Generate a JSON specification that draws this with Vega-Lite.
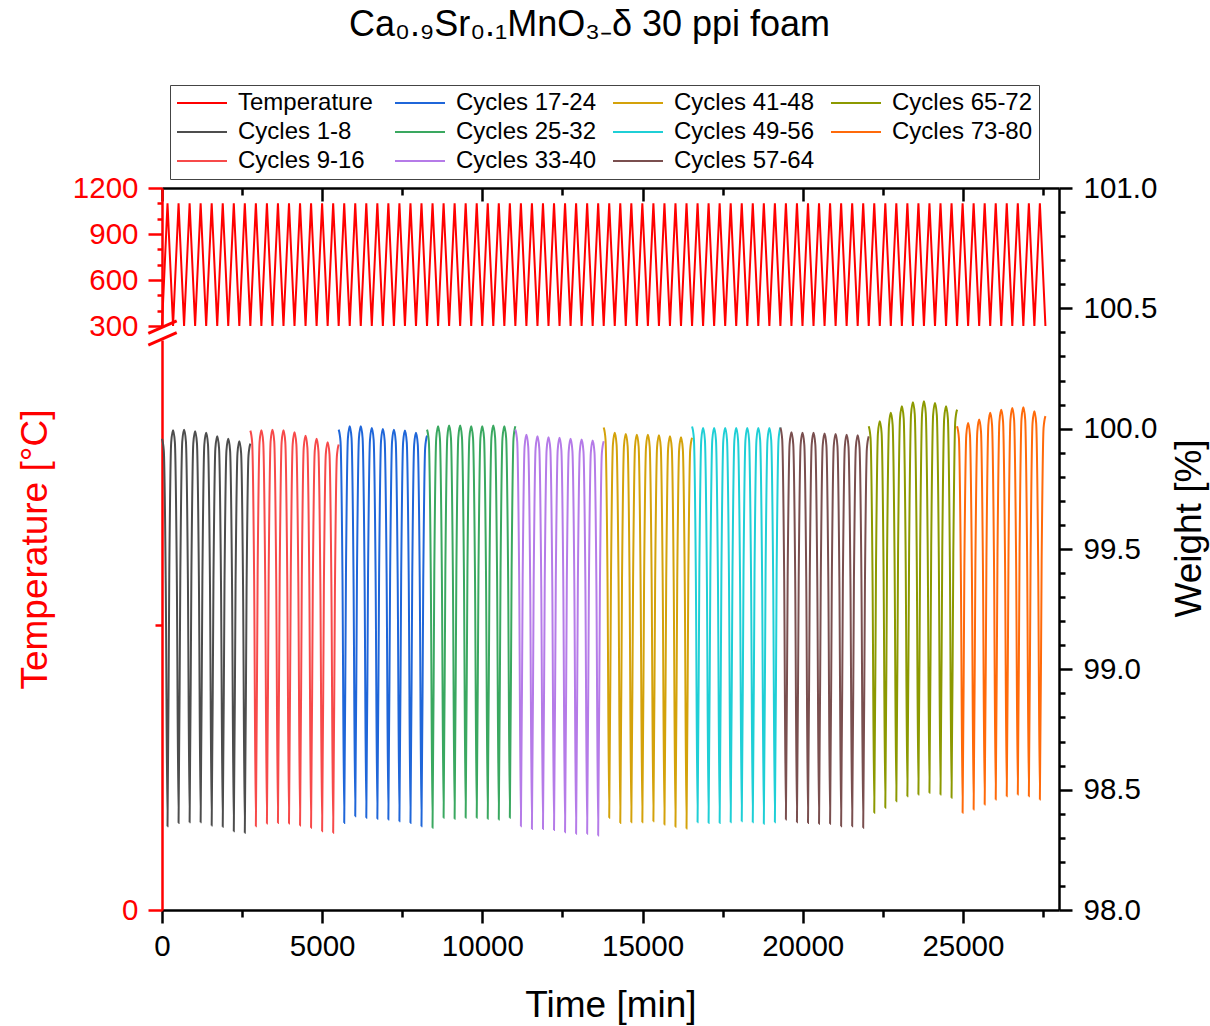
{
"$schema": "https://vega.github.io/schema/vega-lite/v6.json",
"width": 897, "height": 722,
"autosize": {"type": "none"},
"padding": {"left": 162, "top": 188, "right": 151, "bottom": 116},
"background": "white",
"config": {
  "font": "Liberation Sans",
  "view": {"stroke": null},
  "axis": {"grid": false, "domainWidth": 2.5, "tickWidth": 2.5, "domainColor": "#000", "tickColor": "#000", "labelColor": "#000", "labelFontSize": 29.5, "titleFontSize": 37, "titleFontWeight": "normal", "labelFont": "Liberation Sans", "titleFont": "Liberation Sans", "titleColor": "#000", "labelOverlap": false, "labelFlush": false}
},
"title": {"text": "Ca₀.₉Sr₀.₁MnO₃₋δ 30 ppi foam", "fontSize": 36, "font": "Liberation Sans", "fontWeight": "normal", "color": "#000", "anchor": "middle", "frame": "group", "dx": -21, "offset": 41},
"datasets": {
"temp": [{"t":0,"T":300},{"t":172,"T":1100},{"t":345,"T":300},{"t":517,"T":1100},{"t":689,"T":300},{"t":862,"T":1100},{"t":1034,"T":300},{"t":1206,"T":1100},{"t":1379,"T":300},{"t":1551,"T":1100},{"t":1724,"T":300},{"t":1896,"T":1100},{"t":2068,"T":300},{"t":2241,"T":1100},{"t":2413,"T":300},{"t":2585,"T":1100},{"t":2758,"T":300},{"t":2930,"T":1100},{"t":3102,"T":300},{"t":3275,"T":1100},{"t":3447,"T":300},{"t":3619,"T":1100},{"t":3792,"T":300},{"t":3964,"T":1100},{"t":4136,"T":300},{"t":4309,"T":1100},{"t":4481,"T":300},{"t":4653,"T":1100},{"t":4826,"T":300},{"t":4998,"T":1100},{"t":5171,"T":300},{"t":5343,"T":1100},{"t":5515,"T":300},{"t":5688,"T":1100},{"t":5860,"T":300},{"t":6032,"T":1100},{"t":6205,"T":300},{"t":6377,"T":1100},{"t":6549,"T":300},{"t":6722,"T":1100},{"t":6894,"T":300},{"t":7066,"T":1100},{"t":7239,"T":300},{"t":7411,"T":1100},{"t":7583,"T":300},{"t":7756,"T":1100},{"t":7928,"T":300},{"t":8100,"T":1100},{"t":8273,"T":300},{"t":8445,"T":1100},{"t":8618,"T":300},{"t":8790,"T":1100},{"t":8962,"T":300},{"t":9134,"T":1100},{"t":9307,"T":300},{"t":9479,"T":1100},{"t":9652,"T":300},{"t":9824,"T":1100},{"t":9996,"T":300},{"t":10168,"T":1100},{"t":10341,"T":300},{"t":10513,"T":1100},{"t":10686,"T":300},{"t":10858,"T":1100},{"t":11030,"T":300},{"t":11203,"T":1100},{"t":11375,"T":300},{"t":11547,"T":1100},{"t":11720,"T":300},{"t":11892,"T":1100},{"t":12065,"T":300},{"t":12237,"T":1100},{"t":12409,"T":300},{"t":12581,"T":1100},{"t":12754,"T":300},{"t":12926,"T":1100},{"t":13099,"T":300},{"t":13271,"T":1100},{"t":13443,"T":300},{"t":13615,"T":1100},{"t":13788,"T":300},{"t":13960,"T":1100},{"t":14133,"T":300},{"t":14305,"T":1100},{"t":14477,"T":300},{"t":14650,"T":1100},{"t":14822,"T":300},{"t":14994,"T":1100},{"t":15167,"T":300},{"t":15339,"T":1100},{"t":15512,"T":300},{"t":15684,"T":1100},{"t":15856,"T":300},{"t":16028,"T":1100},{"t":16201,"T":300},{"t":16373,"T":1100},{"t":16546,"T":300},{"t":16718,"T":1100},{"t":16890,"T":300},{"t":17062,"T":1100},{"t":17235,"T":300},{"t":17407,"T":1100},{"t":17580,"T":300},{"t":17752,"T":1100},{"t":17924,"T":300},{"t":18097,"T":1100},{"t":18269,"T":300},{"t":18441,"T":1100},{"t":18614,"T":300},{"t":18786,"T":1100},{"t":18959,"T":300},{"t":19131,"T":1100},{"t":19303,"T":300},{"t":19475,"T":1100},{"t":19648,"T":300},{"t":19820,"T":1100},{"t":19993,"T":300},{"t":20165,"T":1100},{"t":20337,"T":300},{"t":20509,"T":1100},{"t":20682,"T":300},{"t":20854,"T":1100},{"t":21027,"T":300},{"t":21199,"T":1100},{"t":21371,"T":300},{"t":21544,"T":1100},{"t":21716,"T":300},{"t":21888,"T":1100},{"t":22061,"T":300},{"t":22233,"T":1100},{"t":22406,"T":300},{"t":22578,"T":1100},{"t":22750,"T":300},{"t":22922,"T":1100},{"t":23095,"T":300},{"t":23267,"T":1100},{"t":23440,"T":300},{"t":23612,"T":1100},{"t":23784,"T":300},{"t":23956,"T":1100},{"t":24129,"T":300},{"t":24301,"T":1100},{"t":24474,"T":300},{"t":24646,"T":1100},{"t":24818,"T":300},{"t":24991,"T":1100},{"t":25163,"T":300},{"t":25335,"T":1100},{"t":25508,"T":300},{"t":25680,"T":1100},{"t":25853,"T":300},{"t":26025,"T":1100},{"t":26197,"T":300},{"t":26369,"T":1100},{"t":26542,"T":300},{"t":26714,"T":1100},{"t":26887,"T":300},{"t":27059,"T":1100},{"t":27231,"T":300},{"t":27403,"T":1100},{"t":27576,"T":300}],
"wt": [
{"t":0,"w":99.958,"g":"1-8"},
{"t":57,"w":99.908,"g":"1-8"},{"t":117,"w":99.358,"g":"1-8"},{"t":172,"w":98.348,"g":"1-8"},{"t":227,"w":99.393,"g":"1-8"},{"t":287,"w":99.943,"g":"1-8"},{"t":345,"w":99.993,"g":"1-8"},
{"t":402,"w":99.943,"g":"1-8"},{"t":462,"w":99.393,"g":"1-8"},{"t":517,"w":98.362,"g":"1-8"},{"t":572,"w":99.396,"g":"1-8"},{"t":632,"w":99.946,"g":"1-8"},{"t":689,"w":99.996,"g":"1-8"},
{"t":747,"w":99.946,"g":"1-8"},{"t":807,"w":99.396,"g":"1-8"},{"t":862,"w":98.365,"g":"1-8"},{"t":917,"w":99.389,"g":"1-8"},{"t":977,"w":99.939,"g":"1-8"},{"t":1034,"w":99.989,"g":"1-8"},
{"t":1091,"w":99.939,"g":"1-8"},{"t":1151,"w":99.389,"g":"1-8"},{"t":1206,"w":98.365,"g":"1-8"},{"t":1261,"w":99.383,"g":"1-8"},{"t":1321,"w":99.933,"g":"1-8"},{"t":1379,"w":99.983,"g":"1-8"},
{"t":1436,"w":99.933,"g":"1-8"},{"t":1496,"w":99.383,"g":"1-8"},{"t":1551,"w":98.351,"g":"1-8"},{"t":1606,"w":99.368,"g":"1-8"},{"t":1666,"w":99.918,"g":"1-8"},{"t":1724,"w":99.968,"g":"1-8"},
{"t":1781,"w":99.918,"g":"1-8"},{"t":1841,"w":99.368,"g":"1-8"},{"t":1896,"w":98.346,"g":"1-8"},{"t":1951,"w":99.358,"g":"1-8"},{"t":2011,"w":99.908,"g":"1-8"},{"t":2068,"w":99.958,"g":"1-8"},
{"t":2126,"w":99.908,"g":"1-8"},{"t":2186,"w":99.358,"g":"1-8"},{"t":2241,"w":98.327,"g":"1-8"},{"t":2296,"w":99.348,"g":"1-8"},{"t":2356,"w":99.898,"g":"1-8"},{"t":2413,"w":99.948,"g":"1-8"},
{"t":2470,"w":99.898,"g":"1-8"},{"t":2530,"w":99.348,"g":"1-8"},{"t":2585,"w":98.321,"g":"1-8"},{"t":2640,"w":99.338,"g":"1-8"},{"t":2700,"w":99.888,"g":"1-8"},{"t":2758,"w":99.938,"g":"1-8"},
{"t":2758,"w":99.992,"g":"9-16"},
{"t":2815,"w":99.942,"g":"9-16"},{"t":2875,"w":99.392,"g":"9-16"},{"t":2930,"w":98.348,"g":"9-16"},{"t":2985,"w":99.393,"g":"9-16"},{"t":3045,"w":99.943,"g":"9-16"},{"t":3102,"w":99.993,"g":"9-16"},
{"t":3160,"w":99.943,"g":"9-16"},{"t":3220,"w":99.393,"g":"9-16"},{"t":3275,"w":98.359,"g":"9-16"},{"t":3330,"w":99.396,"g":"9-16"},{"t":3390,"w":99.946,"g":"9-16"},{"t":3447,"w":99.996,"g":"9-16"},
{"t":3504,"w":99.946,"g":"9-16"},{"t":3564,"w":99.396,"g":"9-16"},{"t":3619,"w":98.362,"g":"9-16"},{"t":3674,"w":99.393,"g":"9-16"},{"t":3734,"w":99.943,"g":"9-16"},{"t":3792,"w":99.993,"g":"9-16"},
{"t":3849,"w":99.943,"g":"9-16"},{"t":3909,"w":99.393,"g":"9-16"},{"t":3964,"w":98.359,"g":"9-16"},{"t":4019,"w":99.385,"g":"9-16"},{"t":4079,"w":99.935,"g":"9-16"},{"t":4136,"w":99.985,"g":"9-16"},
{"t":4194,"w":99.935,"g":"9-16"},{"t":4254,"w":99.385,"g":"9-16"},{"t":4309,"w":98.351,"g":"9-16"},{"t":4364,"w":99.371,"g":"9-16"},{"t":4424,"w":99.921,"g":"9-16"},{"t":4481,"w":99.971,"g":"9-16"},
{"t":4538,"w":99.921,"g":"9-16"},{"t":4598,"w":99.371,"g":"9-16"},{"t":4653,"w":98.342,"g":"9-16"},{"t":4708,"w":99.358,"g":"9-16"},{"t":4768,"w":99.908,"g":"9-16"},{"t":4826,"w":99.958,"g":"9-16"},
{"t":4883,"w":99.908,"g":"9-16"},{"t":4943,"w":99.358,"g":"9-16"},{"t":4998,"w":98.327,"g":"9-16"},{"t":5053,"w":99.344,"g":"9-16"},{"t":5113,"w":99.894,"g":"9-16"},{"t":5171,"w":99.944,"g":"9-16"},
{"t":5228,"w":99.894,"g":"9-16"},{"t":5288,"w":99.344,"g":"9-16"},{"t":5343,"w":98.321,"g":"9-16"},{"t":5398,"w":99.334,"g":"9-16"},{"t":5458,"w":99.884,"g":"9-16"},{"t":5515,"w":99.934,"g":"9-16"},
{"t":5515,"w":99.996,"g":"17-24"},
{"t":5573,"w":99.946,"g":"17-24"},{"t":5633,"w":99.396,"g":"17-24"},{"t":5688,"w":98.362,"g":"17-24"},{"t":5743,"w":99.41,"g":"17-24"},{"t":5803,"w":99.96,"g":"17-24"},{"t":5860,"w":100.01,"g":"17-24"},
{"t":5917,"w":99.96,"g":"17-24"},{"t":5977,"w":99.41,"g":"17-24"},{"t":6032,"w":98.39,"g":"17-24"},{"t":6087,"w":99.41,"g":"17-24"},{"t":6147,"w":99.96,"g":"17-24"},{"t":6205,"w":100.01,"g":"17-24"},
{"t":6262,"w":99.96,"g":"17-24"},{"t":6322,"w":99.41,"g":"17-24"},{"t":6377,"w":98.383,"g":"17-24"},{"t":6432,"w":99.403,"g":"17-24"},{"t":6492,"w":99.953,"g":"17-24"},{"t":6549,"w":100.003,"g":"17-24"},
{"t":6607,"w":99.953,"g":"17-24"},{"t":6667,"w":99.403,"g":"17-24"},{"t":6722,"w":98.379,"g":"17-24"},{"t":6777,"w":99.399,"g":"17-24"},{"t":6837,"w":99.949,"g":"17-24"},{"t":6894,"w":99.999,"g":"17-24"},
{"t":6951,"w":99.949,"g":"17-24"},{"t":7011,"w":99.399,"g":"17-24"},{"t":7066,"w":98.376,"g":"17-24"},{"t":7121,"w":99.396,"g":"17-24"},{"t":7181,"w":99.946,"g":"17-24"},{"t":7239,"w":99.996,"g":"17-24"},
{"t":7296,"w":99.946,"g":"17-24"},{"t":7356,"w":99.396,"g":"17-24"},{"t":7411,"w":98.369,"g":"17-24"},{"t":7466,"w":99.392,"g":"17-24"},{"t":7526,"w":99.942,"g":"17-24"},{"t":7583,"w":99.992,"g":"17-24"},
{"t":7641,"w":99.942,"g":"17-24"},{"t":7701,"w":99.392,"g":"17-24"},{"t":7756,"w":98.362,"g":"17-24"},{"t":7811,"w":99.383,"g":"17-24"},{"t":7871,"w":99.933,"g":"17-24"},{"t":7928,"w":99.983,"g":"17-24"},
{"t":7985,"w":99.933,"g":"17-24"},{"t":8045,"w":99.383,"g":"17-24"},{"t":8100,"w":98.348,"g":"17-24"},{"t":8155,"w":99.371,"g":"17-24"},{"t":8215,"w":99.921,"g":"17-24"},{"t":8273,"w":99.971,"g":"17-24"},
{"t":8273,"w":99.996,"g":"25-32"},
{"t":8330,"w":99.946,"g":"25-32"},{"t":8390,"w":99.396,"g":"25-32"},{"t":8445,"w":98.342,"g":"25-32"},{"t":8500,"w":99.41,"g":"25-32"},{"t":8560,"w":99.96,"g":"25-32"},{"t":8618,"w":100.01,"g":"25-32"},
{"t":8675,"w":99.96,"g":"25-32"},{"t":8735,"w":99.41,"g":"25-32"},{"t":8790,"w":98.383,"g":"25-32"},{"t":8845,"w":99.413,"g":"25-32"},{"t":8905,"w":99.963,"g":"25-32"},{"t":8962,"w":100.013,"g":"25-32"},
{"t":9019,"w":99.963,"g":"25-32"},{"t":9079,"w":99.413,"g":"25-32"},{"t":9134,"w":98.379,"g":"25-32"},{"t":9189,"w":99.413,"g":"25-32"},{"t":9249,"w":99.963,"g":"25-32"},{"t":9307,"w":100.013,"g":"25-32"},
{"t":9364,"w":99.963,"g":"25-32"},{"t":9424,"w":99.413,"g":"25-32"},{"t":9479,"w":98.383,"g":"25-32"},{"t":9534,"w":99.41,"g":"25-32"},{"t":9594,"w":99.96,"g":"25-32"},{"t":9652,"w":100.01,"g":"25-32"},
{"t":9709,"w":99.96,"g":"25-32"},{"t":9769,"w":99.41,"g":"25-32"},{"t":9824,"w":98.383,"g":"25-32"},{"t":9879,"w":99.41,"g":"25-32"},{"t":9939,"w":99.96,"g":"25-32"},{"t":9996,"w":100.01,"g":"25-32"},
{"t":10053,"w":99.96,"g":"25-32"},{"t":10113,"w":99.41,"g":"25-32"},{"t":10168,"w":98.379,"g":"25-32"},{"t":10223,"w":99.413,"g":"25-32"},{"t":10283,"w":99.963,"g":"25-32"},{"t":10341,"w":100.013,"g":"25-32"},
{"t":10398,"w":99.963,"g":"25-32"},{"t":10458,"w":99.413,"g":"25-32"},{"t":10513,"w":98.376,"g":"25-32"},{"t":10568,"w":99.41,"g":"25-32"},{"t":10628,"w":99.96,"g":"25-32"},{"t":10686,"w":100.01,"g":"25-32"},
{"t":10743,"w":99.96,"g":"25-32"},{"t":10803,"w":99.41,"g":"25-32"},{"t":10858,"w":98.383,"g":"25-32"},{"t":10913,"w":99.41,"g":"25-32"},{"t":10973,"w":99.96,"g":"25-32"},{"t":11030,"w":100.01,"g":"25-32"},
{"t":11030,"w":99.996,"g":"33-40"},
{"t":11088,"w":99.946,"g":"33-40"},{"t":11148,"w":99.396,"g":"33-40"},{"t":11203,"w":98.348,"g":"33-40"},{"t":11258,"w":99.375,"g":"33-40"},{"t":11318,"w":99.925,"g":"33-40"},{"t":11375,"w":99.975,"g":"33-40"},
{"t":11432,"w":99.925,"g":"33-40"},{"t":11492,"w":99.375,"g":"33-40"},{"t":11547,"w":98.337,"g":"33-40"},{"t":11602,"w":99.368,"g":"33-40"},{"t":11662,"w":99.918,"g":"33-40"},{"t":11720,"w":99.968,"g":"33-40"},
{"t":11777,"w":99.918,"g":"33-40"},{"t":11837,"w":99.368,"g":"33-40"},{"t":11892,"w":98.337,"g":"33-40"},{"t":11947,"w":99.364,"g":"33-40"},{"t":12007,"w":99.914,"g":"33-40"},{"t":12065,"w":99.964,"g":"33-40"},
{"t":12122,"w":99.914,"g":"33-40"},{"t":12182,"w":99.364,"g":"33-40"},{"t":12237,"w":98.332,"g":"33-40"},{"t":12292,"w":99.362,"g":"33-40"},{"t":12352,"w":99.912,"g":"33-40"},{"t":12409,"w":99.962,"g":"33-40"},
{"t":12466,"w":99.912,"g":"33-40"},{"t":12526,"w":99.362,"g":"33-40"},{"t":12581,"w":98.323,"g":"33-40"},{"t":12636,"w":99.358,"g":"33-40"},{"t":12696,"w":99.908,"g":"33-40"},{"t":12754,"w":99.958,"g":"33-40"},
{"t":12811,"w":99.908,"g":"33-40"},{"t":12871,"w":99.358,"g":"33-40"},{"t":12926,"w":98.317,"g":"33-40"},{"t":12981,"w":99.355,"g":"33-40"},{"t":13041,"w":99.905,"g":"33-40"},{"t":13099,"w":99.955,"g":"33-40"},
{"t":13156,"w":99.905,"g":"33-40"},{"t":13216,"w":99.355,"g":"33-40"},{"t":13271,"w":98.317,"g":"33-40"},{"t":13326,"w":99.351,"g":"33-40"},{"t":13386,"w":99.901,"g":"33-40"},{"t":13443,"w":99.951,"g":"33-40"},
{"t":13500,"w":99.901,"g":"33-40"},{"t":13560,"w":99.351,"g":"33-40"},{"t":13615,"w":98.31,"g":"33-40"},{"t":13670,"w":99.348,"g":"33-40"},{"t":13730,"w":99.898,"g":"33-40"},{"t":13788,"w":99.948,"g":"33-40"},
{"t":13788,"w":100.005,"g":"41-48"},
{"t":13845,"w":99.955,"g":"41-48"},{"t":13905,"w":99.405,"g":"41-48"},{"t":13960,"w":98.383,"g":"41-48"},{"t":14015,"w":99.383,"g":"41-48"},{"t":14075,"w":99.933,"g":"41-48"},{"t":14133,"w":99.983,"g":"41-48"},
{"t":14190,"w":99.933,"g":"41-48"},{"t":14250,"w":99.383,"g":"41-48"},{"t":14305,"w":98.362,"g":"41-48"},{"t":14360,"w":99.378,"g":"41-48"},{"t":14420,"w":99.928,"g":"41-48"},{"t":14477,"w":99.978,"g":"41-48"},
{"t":14535,"w":99.928,"g":"41-48"},{"t":14595,"w":99.378,"g":"41-48"},{"t":14650,"w":98.365,"g":"41-48"},{"t":14705,"w":99.375,"g":"41-48"},{"t":14765,"w":99.925,"g":"41-48"},{"t":14822,"w":99.975,"g":"41-48"},
{"t":14879,"w":99.925,"g":"41-48"},{"t":14939,"w":99.375,"g":"41-48"},{"t":14994,"w":98.365,"g":"41-48"},{"t":15049,"w":99.375,"g":"41-48"},{"t":15109,"w":99.925,"g":"41-48"},{"t":15167,"w":99.975,"g":"41-48"},
{"t":15224,"w":99.925,"g":"41-48"},{"t":15284,"w":99.375,"g":"41-48"},{"t":15339,"w":98.369,"g":"41-48"},{"t":15394,"w":99.373,"g":"41-48"},{"t":15454,"w":99.923,"g":"41-48"},{"t":15512,"w":99.973,"g":"41-48"},
{"t":15569,"w":99.923,"g":"41-48"},{"t":15629,"w":99.373,"g":"41-48"},{"t":15684,"w":98.355,"g":"41-48"},{"t":15739,"w":99.368,"g":"41-48"},{"t":15799,"w":99.918,"g":"41-48"},{"t":15856,"w":99.968,"g":"41-48"},
{"t":15913,"w":99.918,"g":"41-48"},{"t":15973,"w":99.368,"g":"41-48"},{"t":16028,"w":98.346,"g":"41-48"},{"t":16083,"w":99.364,"g":"41-48"},{"t":16143,"w":99.914,"g":"41-48"},{"t":16201,"w":99.964,"g":"41-48"},
{"t":16258,"w":99.914,"g":"41-48"},{"t":16318,"w":99.364,"g":"41-48"},{"t":16373,"w":98.339,"g":"41-48"},{"t":16428,"w":99.362,"g":"41-48"},{"t":16488,"w":99.912,"g":"41-48"},{"t":16546,"w":99.962,"g":"41-48"},
{"t":16546,"w":100.009,"g":"49-56"},
{"t":16603,"w":99.959,"g":"49-56"},{"t":16663,"w":99.409,"g":"49-56"},{"t":16718,"w":98.365,"g":"49-56"},{"t":16773,"w":99.403,"g":"49-56"},{"t":16833,"w":99.953,"g":"49-56"},{"t":16890,"w":100.003,"g":"49-56"},
{"t":16947,"w":99.953,"g":"49-56"},{"t":17007,"w":99.403,"g":"49-56"},{"t":17062,"w":98.362,"g":"49-56"},{"t":17117,"w":99.403,"g":"49-56"},{"t":17177,"w":99.953,"g":"49-56"},{"t":17235,"w":100.003,"g":"49-56"},
{"t":17292,"w":99.953,"g":"49-56"},{"t":17352,"w":99.403,"g":"49-56"},{"t":17407,"w":98.362,"g":"49-56"},{"t":17462,"w":99.403,"g":"49-56"},{"t":17522,"w":99.953,"g":"49-56"},{"t":17580,"w":100.003,"g":"49-56"},
{"t":17637,"w":99.953,"g":"49-56"},{"t":17697,"w":99.403,"g":"49-56"},{"t":17752,"w":98.365,"g":"49-56"},{"t":17807,"w":99.403,"g":"49-56"},{"t":17867,"w":99.953,"g":"49-56"},{"t":17924,"w":100.003,"g":"49-56"},
{"t":17982,"w":99.953,"g":"49-56"},{"t":18042,"w":99.403,"g":"49-56"},{"t":18097,"w":98.369,"g":"49-56"},{"t":18152,"w":99.403,"g":"49-56"},{"t":18212,"w":99.953,"g":"49-56"},{"t":18269,"w":100.003,"g":"49-56"},
{"t":18326,"w":99.953,"g":"49-56"},{"t":18386,"w":99.403,"g":"49-56"},{"t":18441,"w":98.365,"g":"49-56"},{"t":18496,"w":99.403,"g":"49-56"},{"t":18556,"w":99.953,"g":"49-56"},{"t":18614,"w":100.003,"g":"49-56"},
{"t":18671,"w":99.953,"g":"49-56"},{"t":18731,"w":99.403,"g":"49-56"},{"t":18786,"w":98.358,"g":"49-56"},{"t":18841,"w":99.403,"g":"49-56"},{"t":18901,"w":99.953,"g":"49-56"},{"t":18959,"w":100.003,"g":"49-56"},
{"t":19016,"w":99.953,"g":"49-56"},{"t":19076,"w":99.403,"g":"49-56"},{"t":19131,"w":98.365,"g":"49-56"},{"t":19186,"w":99.405,"g":"49-56"},{"t":19246,"w":99.955,"g":"49-56"},{"t":19303,"w":100.005,"g":"49-56"},
{"t":19303,"w":100.005,"g":"57-64"},
{"t":19360,"w":99.955,"g":"57-64"},{"t":19420,"w":99.405,"g":"57-64"},{"t":19475,"w":98.376,"g":"57-64"},{"t":19530,"w":99.385,"g":"57-64"},{"t":19590,"w":99.935,"g":"57-64"},{"t":19648,"w":99.985,"g":"57-64"},
{"t":19705,"w":99.935,"g":"57-64"},{"t":19765,"w":99.385,"g":"57-64"},{"t":19820,"w":98.365,"g":"57-64"},{"t":19875,"w":99.383,"g":"57-64"},{"t":19935,"w":99.933,"g":"57-64"},{"t":19993,"w":99.983,"g":"57-64"},
{"t":20050,"w":99.933,"g":"57-64"},{"t":20110,"w":99.383,"g":"57-64"},{"t":20165,"w":98.362,"g":"57-64"},{"t":20220,"w":99.383,"g":"57-64"},{"t":20280,"w":99.933,"g":"57-64"},{"t":20337,"w":99.983,"g":"57-64"},
{"t":20394,"w":99.933,"g":"57-64"},{"t":20454,"w":99.383,"g":"57-64"},{"t":20509,"w":98.358,"g":"57-64"},{"t":20564,"w":99.38,"g":"57-64"},{"t":20624,"w":99.93,"g":"57-64"},{"t":20682,"w":99.98,"g":"57-64"},
{"t":20739,"w":99.93,"g":"57-64"},{"t":20799,"w":99.38,"g":"57-64"},{"t":20854,"w":98.358,"g":"57-64"},{"t":20909,"w":99.378,"g":"57-64"},{"t":20969,"w":99.928,"g":"57-64"},{"t":21027,"w":99.978,"g":"57-64"},
{"t":21084,"w":99.928,"g":"57-64"},{"t":21144,"w":99.378,"g":"57-64"},{"t":21199,"w":98.348,"g":"57-64"},{"t":21254,"w":99.375,"g":"57-64"},{"t":21314,"w":99.925,"g":"57-64"},{"t":21371,"w":99.975,"g":"57-64"},
{"t":21429,"w":99.925,"g":"57-64"},{"t":21489,"w":99.375,"g":"57-64"},{"t":21544,"w":98.348,"g":"57-64"},{"t":21599,"w":99.373,"g":"57-64"},{"t":21659,"w":99.923,"g":"57-64"},{"t":21716,"w":99.973,"g":"57-64"},
{"t":21773,"w":99.923,"g":"57-64"},{"t":21833,"w":99.373,"g":"57-64"},{"t":21888,"w":98.342,"g":"57-64"},{"t":21943,"w":99.368,"g":"57-64"},{"t":22003,"w":99.918,"g":"57-64"},{"t":22061,"w":99.968,"g":"57-64"},
{"t":22061,"w":100.01,"g":"65-72"},
{"t":22118,"w":99.96,"g":"65-72"},{"t":22178,"w":99.41,"g":"65-72"},{"t":22233,"w":98.404,"g":"65-72"},{"t":22288,"w":99.431,"g":"65-72"},{"t":22348,"w":99.981,"g":"65-72"},{"t":22406,"w":100.031,"g":"65-72"},
{"t":22463,"w":99.981,"g":"65-72"},{"t":22523,"w":99.431,"g":"65-72"},{"t":22578,"w":98.425,"g":"65-72"},{"t":22633,"w":99.466,"g":"65-72"},{"t":22693,"w":100.016,"g":"65-72"},{"t":22750,"w":100.066,"g":"65-72"},
{"t":22807,"w":100.016,"g":"65-72"},{"t":22867,"w":99.466,"g":"65-72"},{"t":22922,"w":98.452,"g":"65-72"},{"t":22977,"w":99.493,"g":"65-72"},{"t":23037,"w":100.043,"g":"65-72"},{"t":23095,"w":100.093,"g":"65-72"},
{"t":23152,"w":100.043,"g":"65-72"},{"t":23212,"w":99.493,"g":"65-72"},{"t":23267,"w":98.473,"g":"65-72"},{"t":23322,"w":99.51,"g":"65-72"},{"t":23382,"w":100.06,"g":"65-72"},{"t":23440,"w":100.11,"g":"65-72"},
{"t":23497,"w":100.06,"g":"65-72"},{"t":23557,"w":99.51,"g":"65-72"},{"t":23612,"w":98.48,"g":"65-72"},{"t":23667,"w":99.514,"g":"65-72"},{"t":23727,"w":100.064,"g":"65-72"},{"t":23784,"w":100.114,"g":"65-72"},
{"t":23841,"w":100.064,"g":"65-72"},{"t":23901,"w":99.514,"g":"65-72"},{"t":23956,"w":98.487,"g":"65-72"},{"t":24011,"w":99.507,"g":"65-72"},{"t":24071,"w":100.057,"g":"65-72"},{"t":24129,"w":100.107,"g":"65-72"},
{"t":24186,"w":100.057,"g":"65-72"},{"t":24246,"w":99.507,"g":"65-72"},{"t":24301,"w":98.48,"g":"65-72"},{"t":24356,"w":99.493,"g":"65-72"},{"t":24416,"w":100.043,"g":"65-72"},{"t":24474,"w":100.093,"g":"65-72"},
{"t":24531,"w":100.043,"g":"65-72"},{"t":24591,"w":99.493,"g":"65-72"},{"t":24646,"w":98.466,"g":"65-72"},{"t":24701,"w":99.479,"g":"65-72"},{"t":24761,"w":100.029,"g":"65-72"},{"t":24818,"w":100.079,"g":"65-72"},
{"t":24818,"w":100.01,"g":"73-80"},
{"t":24876,"w":99.96,"g":"73-80"},{"t":24936,"w":99.41,"g":"73-80"},{"t":24991,"w":98.404,"g":"73-80"},{"t":25046,"w":99.424,"g":"73-80"},{"t":25106,"w":99.974,"g":"73-80"},{"t":25163,"w":100.024,"g":"73-80"},
{"t":25220,"w":99.974,"g":"73-80"},{"t":25280,"w":99.424,"g":"73-80"},{"t":25335,"w":98.418,"g":"73-80"},{"t":25390,"w":99.438,"g":"73-80"},{"t":25450,"w":99.988,"g":"73-80"},{"t":25508,"w":100.038,"g":"73-80"},
{"t":25565,"w":99.988,"g":"73-80"},{"t":25625,"w":99.438,"g":"73-80"},{"t":25680,"w":98.438,"g":"73-80"},{"t":25735,"w":99.466,"g":"73-80"},{"t":25795,"w":100.016,"g":"73-80"},{"t":25853,"w":100.066,"g":"73-80"},
{"t":25910,"w":100.016,"g":"73-80"},{"t":25970,"w":99.466,"g":"73-80"},{"t":26025,"w":98.459,"g":"73-80"},{"t":26080,"w":99.479,"g":"73-80"},{"t":26140,"w":100.029,"g":"73-80"},{"t":26197,"w":100.079,"g":"73-80"},
{"t":26254,"w":100.029,"g":"73-80"},{"t":26314,"w":99.479,"g":"73-80"},{"t":26369,"w":98.473,"g":"73-80"},{"t":26424,"w":99.486,"g":"73-80"},{"t":26484,"w":100.036,"g":"73-80"},{"t":26542,"w":100.086,"g":"73-80"},
{"t":26599,"w":100.036,"g":"73-80"},{"t":26659,"w":99.486,"g":"73-80"},{"t":26714,"w":98.48,"g":"73-80"},{"t":26769,"w":99.489,"g":"73-80"},{"t":26829,"w":100.039,"g":"73-80"},{"t":26887,"w":100.089,"g":"73-80"},
{"t":26944,"w":100.039,"g":"73-80"},{"t":27004,"w":99.489,"g":"73-80"},{"t":27059,"w":98.473,"g":"73-80"},{"t":27114,"w":99.472,"g":"73-80"},{"t":27174,"w":100.022,"g":"73-80"},{"t":27231,"w":100.072,"g":"73-80"},
{"t":27288,"w":100.022,"g":"73-80"},{"t":27348,"w":99.472,"g":"73-80"},{"t":27403,"w":98.459,"g":"73-80"},{"t":27458,"w":99.452,"g":"73-80"},{"t":27518,"w":100.002,"g":"73-80"},{"t":27576,"w":100.052,"g":"73-80"}
]
},
"layer": [
{
  "data": {"name": "temp"},
  "mark": {"type": "line", "strokeWidth": 2},
  "encoding": {
    "x": {"field": "t", "type": "quantitative", "scale": {"domain": [0, 28000], "nice": false, "zero": false},
      "axis": {"orient": "bottom", "values": [0, 5000, 10000, 15000, 20000, 25000], "format": "d", "tickSize": 13, "labelPadding": 9, "title": "Time [min]", "titleY": 106, "titleBaseline": "alphabetic"}},
    "y": {"field": "T", "type": "quantitative", "scale": {"domain": [300, 1200], "range": [138, 0], "nice": false, "zero": false},
      "axis": {"orient": "left", "values": [300, 600, 900, 1200], "format": "d", "tickSize": 14, "labelPadding": 10, "domainColor": "#ff0000", "tickColor": "#ff0000", "labelColor": "#ff0000", "title": "Temperature [°C]", "titleColor": "#ff0000", "titleX": -116, "titleY": 361, "titleAngle": 270, "titleBaseline": "alphabetic", "titleAlign": "center"}},
    "color": {"datum": "Temperature", "type": "nominal"}
  }
},
{
  "data": {"name": "temp"},
  "mark": {"type": "line", "opacity": 0},
  "encoding": {
    "x": {"field": "t", "type": "quantitative", "scale": {"domain": [0, 28000], "nice": false, "zero": false},
      "axis": {"orient": "bottom", "values": [2500, 7500, 12500, 17500, 22500, 27500], "tickSize": 7, "labels": false, "domain": false, "title": null}},
    "y": {"field": "T", "type": "quantitative", "scale": {"domain": [300, 1200], "range": [138, 0], "nice": false, "zero": false},
      "axis": {"orient": "left", "values": [400, 500, 700, 800, 1000, 1100], "tickSize": 5, "labels": false, "domain": false, "tickColor": "#ff0000", "title": null}}
  }
},
{
  "data": {"name": "temp"},
  "transform": [{"filter": "datum.T <= 300"}],
  "mark": {"type": "line", "opacity": 0},
  "encoding": {
    "x": {"field": "t", "type": "quantitative", "scale": {"domain": [0, 28000], "nice": false, "zero": false}, "axis": null},
    "y": {"field": "T", "type": "quantitative", "scale": {"domain": [0, 300], "range": [722, 152], "nice": false, "zero": false},
      "axis": {"orient": "left", "values": [0], "format": "d", "tickSize": 14, "labelPadding": 10, "domainColor": "#ff0000", "tickColor": "#ff0000", "labelColor": "#ff0000", "title": null}}
  }
},
{
  "data": {"name": "temp"},
  "transform": [{"filter": "datum.T <= 300"}],
  "mark": {"type": "line", "opacity": 0},
  "encoding": {
    "x": {"field": "t", "type": "quantitative", "scale": {"domain": [0, 28000], "nice": false, "zero": false}, "axis": null},
    "y": {"field": "T", "type": "quantitative", "scale": {"domain": [0, 300], "range": [722, 152], "nice": false, "zero": false},
      "axis": {"orient": "left", "values": [150], "tickSize": 7, "labels": false, "domain": false, "tickColor": "#ff0000", "title": null}}
  }
},
{
  "data": {"name": "wt"},
  "mark": {"type": "line", "strokeWidth": 2, "interpolate": "monotone"},
  "encoding": {
    "x": {"field": "t", "type": "quantitative", "scale": {"domain": [0, 28000], "nice": false, "zero": false},
      "axis": {"orient": "top", "values": [0, 5000, 10000, 15000, 20000, 25000], "tickSize": -13, "labels": false, "title": null}},
    "y": {"field": "w", "type": "quantitative", "scale": {"domain": [98, 101], "nice": false, "zero": false},
      "axis": {"orient": "right", "values": [98, 98.5, 99, 99.5, 100, 100.5, 101], "format": ".1f", "tickSize": 13, "labelPadding": 11, "title": "Weight [%]", "titleAngle": 270, "titleX": 141, "titleY": 340, "titleBaseline": "alphabetic", "titleAlign": "center"}},
    "color": {"field": "g", "type": "nominal",
      "scale": {"domain": ["Temperature", "17-24", "41-48", "65-72", "1-8", "25-32", "49-56", "73-80", "9-16", "33-40", "57-64"],
                "range": ["#ff0000", "#1f66d9", "#d4a20a", "#8c9900", "#4d4d4d", "#3aa860", "#1fcfd6", "#ff6a0a", "#f74a4a", "#b57be8", "#7a4f4f"]},
      "legend": {"orient": "none", "legendX": 8, "legendY": -103, "columns": 4, "direction": "horizontal", "title": null,
        "labelExpr": "datum.label == 'Temperature' ? 'Temperature' : 'Cycles ' + datum.label",
        "symbolType": "M-2.5,0H2.5", "symbolSize": 400, "symbolStrokeWidth": 2, "symbolOffset": 14,
        "labelFontSize": 24, "labelFont": "Liberation Sans", "labelColor": "#000", "labelOffset": 24,
        "gridAlign": "all", "columnPadding": 12, "rowPadding": 5, "padding": 6,
        "strokeColor": "#444"}}
  }
},
{
  "data": {"name": "wt"},
  "mark": {"type": "line", "opacity": 0},
  "encoding": {
    "x": {"field": "t", "type": "quantitative", "scale": {"domain": [0, 28000], "nice": false, "zero": false},
      "axis": {"orient": "top", "values": [2500, 7500, 12500, 17500, 22500, 27500], "tickSize": -7, "labels": false, "domain": false, "title": null}},
    "y": {"field": "w", "type": "quantitative", "scale": {"domain": [98, 101], "nice": false, "zero": false},
      "axis": {"orient": "right", "values": [98.1, 98.2, 98.3, 98.4, 98.6, 98.7, 98.8, 98.9, 99.1, 99.2, 99.3, 99.4, 99.6, 99.7, 99.8, 99.9, 100.1, 100.2, 100.3, 100.4, 100.6, 100.7, 100.8, 100.9], "tickSize": 6, "labels": false, "domain": false, "title": null}}
  }
},
{
  "data": {"values": [{}]},
  "mark": {"type": "rule", "color": "#ff0000", "strokeWidth": 3},
  "encoding": {
    "x": {"datum": -428, "type": "quantitative", "scale": {"domain": [0, 28000], "nice": false, "zero": false}, "axis": null},
    "x2": {"datum": 459},
    "y": {"datum": 252, "type": "quantitative", "scale": {"domain": [300, 1200], "range": [138, 0], "nice": false, "zero": false}, "axis": null},
    "y2": {"datum": 334}
  }
},
{
  "data": {"values": [{}]},
  "mark": {"type": "rule", "color": "#ff0000", "strokeWidth": 3},
  "encoding": {
    "x": {"datum": -428, "type": "quantitative", "scale": {"domain": [0, 28000], "nice": false, "zero": false}, "axis": null},
    "x2": {"datum": 459},
    "y": {"datum": 176, "type": "quantitative", "scale": {"domain": [300, 1200], "range": [138, 0], "nice": false, "zero": false}, "axis": null},
    "y2": {"datum": 256}
  }
}
],
"resolve": {"scale": {"x": "independent", "y": "independent"}}
}
